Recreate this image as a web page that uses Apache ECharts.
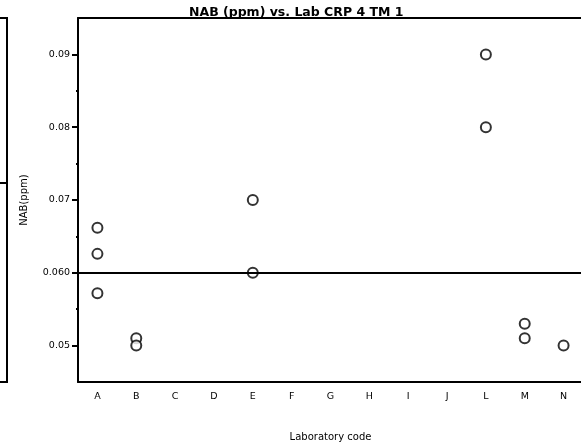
<!DOCTYPE html>
<html>
<head>
<meta charset="utf-8">
<script src="https://cdn.jsdelivr.net/npm/echarts@6/dist/echarts.min.js"></script>
<style>
  html, body { margin: 0; padding: 0; background: #fff; }
  #chart { width: 581px; height: 447px; }
</style>
</head>
<body>
<div id="chart"></div>
<script>
// Laboratory codes along the x axis
const categories = ['A', 'B', 'C', 'D', 'E', 'F', 'G', 'H', 'I', 'J', 'L', 'M', 'N'];

// Individual NAB results (ppm), one entry per measurement
const labs = ['A', 'A', 'A', 'B', 'B', 'E', 'E', 'L', 'L', 'M', 'M', 'N'];
const nab = [0.0662, 0.0626, 0.0572, 0.0510, 0.0500, 0.0700, 0.0600, 0.0900, 0.0800, 0.0530, 0.0510, 0.0500];

// Assigned value drawn as a horizontal reference line
const refValue = 0.06;

// Y axis range, labelled ticks and minor ticks
const yMin = 0.045;
const yMax = 0.095;
const yLabelValues = [0.05, 0.06, 0.07, 0.08, 0.09];
const yLabelText = ['0.05', '0.060', '0.07', '0.08', '0.09'];
const yMinorValues = [0.055, 0.065, 0.075, 0.085];

const FONT = '"DejaVu Sans", Arial, sans-serif';
const points = labs.map((lab, i) => [lab, nab[i]]);

const chart = echarts.init(document.getElementById('chart'), null, { renderer: 'canvas' });

const axisLineStyle = { color: '#000', width: 2 };

chart.setOption({
  animation: false,
  backgroundColor: '#fff',
  title: {
    text: 'NAB (ppm) vs. Lab CRP 4 TM 1',
    left: 184,
    top: 1,
    textStyle: { fontFamily: FONT, fontSize: 12.5, fontWeight: 'bold', color: '#000' }
  },
  grid: {
    left: 78,
    top: 18,
    width: 505,
    height: 364,
    outerBoundsMode: 'none',
    containLabel: false
  },
  xAxis: [
    {
      type: 'category',
      data: categories,
      boundaryGap: true,
      name: 'Laboratory code',
      nameLocation: 'middle',
      nameGap: 50,
      nameTextStyle: { fontFamily: FONT, fontSize: 10, color: '#000' },
      axisLine: { lineStyle: axisLineStyle },
      axisTick: { alignWithLabel: true, length: 5, lineStyle: axisLineStyle },
      axisLabel: { fontFamily: FONT, fontSize: 9.5, color: '#000', margin: 10 },
      splitLine: { show: false }
    },
    {
      // top frame line of the plot
      type: 'category',
      data: categories,
      position: 'top',
      axisLine: { lineStyle: axisLineStyle },
      axisTick: { show: false },
      axisLabel: { show: false },
      splitLine: { show: false }
    }
  ],
  yAxis: [
    {
      type: 'value',
      min: yMin,
      max: yMax,
      name: 'NAB(ppm)',
      nameLocation: 'middle',
      nameGap: 49,
      nameTextStyle: { fontFamily: FONT, fontSize: 10, color: '#000' },
      axisLine: { show: true, lineStyle: axisLineStyle },
      axisTick: {
        show: true,
        length: 6,
        customValues: yLabelValues,
        lineStyle: axisLineStyle
      },
      axisLabel: {
        fontFamily: FONT,
        fontSize: 9.5,
        color: '#000',
        margin: 8,
        customValues: yLabelValues,
        formatter: (v) => {
          const idx = yLabelValues.findIndex(t => Math.abs(t - v) < 1e-9);
          return idx >= 0 ? yLabelText[idx] : '';
        }
      },
      splitLine: { show: false }
    },
    {
      // short minor ticks between the labelled values
      type: 'value',
      min: yMin,
      max: yMax,
      position: 'left',
      axisLine: { show: false },
      axisTick: {
        show: true,
        length: 2,
        customValues: yMinorValues,
        lineStyle: axisLineStyle
      },
      axisLabel: { show: false },
      splitLine: { show: false }
    }
  ],
  series: [
    {
      type: 'scatter',
      data: points,
      symbol: 'circle',
      symbolSize: 10,
      itemStyle: { color: '#fff', borderColor: '#000', borderWidth: 2 },
      markLine: {
        silent: true,
        symbol: 'none',
        label: { show: false },
        lineStyle: { color: '#000', width: 2, type: 'solid' },
        data: [{ yAxis: refValue }]
      },
      z: 3
    }
  ],
  // Frame edge of the neighbouring panel at the far left
  graphic: [
    {
      type: 'polyline',
      shape: { points: [[0, 18], [7, 18], [7, 382], [0, 382]] },
      style: { stroke: '#000', lineWidth: 2, fill: null }
    },
    {
      type: 'line',
      shape: { x1: 0, y1: 183, x2: 7, y2: 183 },
      style: { stroke: '#000', lineWidth: 2 }
    }
  ]
});
</script>
</body>
</html>
